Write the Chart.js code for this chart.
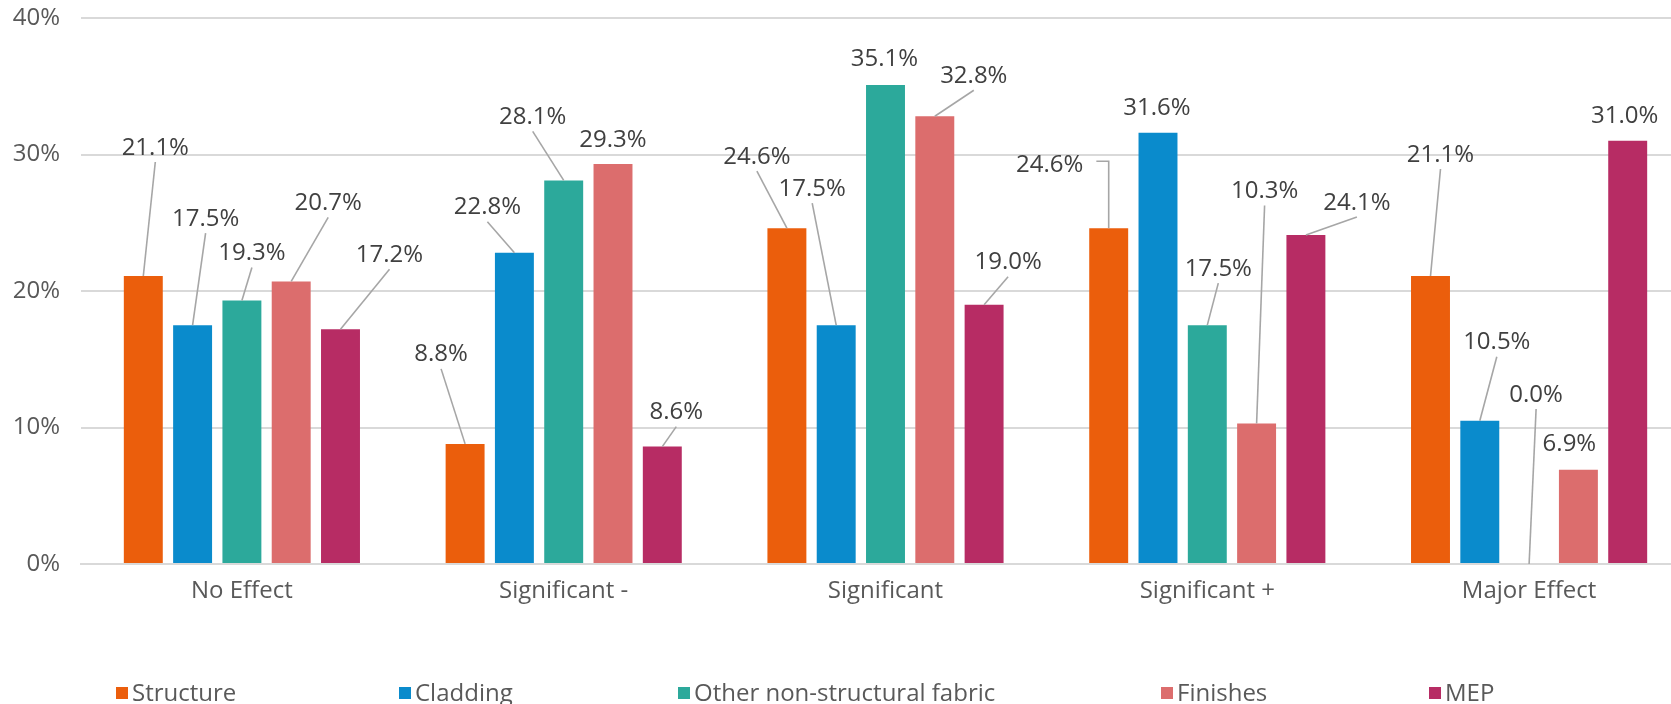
<!DOCTYPE html>
<html>
<head>
<meta charset="utf-8">
<script src="https://cdn.jsdelivr.net/npm/chart.js@4/dist/chart.umd.min.js"></script>
<style>
  html, body { margin: 0; padding: 0; background: #fff; overflow: hidden; }
  #wrap { width: 1700px; height: 704px; }
</style>
</head>
<body>
<div id="wrap"><canvas id="chart" width="1700" height="704"></canvas></div>
<script>
// Data
const categories = ['No Effect', 'Significant -', 'Significant', 'Significant +', 'Major Effect'];
const seriesNames = ['Structure', 'Cladding', 'Other non-structural fabric', 'Finishes', 'MEP'];
const structure = [21.1, 8.8, 24.6, 24.6, 21.1];
const cladding = [17.5, 22.8, 17.5, 31.6, 10.5];
const otherFabric = [19.3, 28.1, 35.1, 17.5, 0.0];
const finishes = [20.7, 29.3, 32.8, 10.3, 6.9];
const mep = [17.2, 8.6, 19.0, 24.1, 31.0];
const yTicks = [0, 10, 20, 30, 40];

const colors = ['#EB5E0C', '#0A8BCC', '#2CA99B', '#DC6D6D', '#B72C64'];

// where each label sits relative to the top of its bar (px), 'e' = elbow leader
const labelPlacement = [
    [[12, -130], [-24, -91], [-30, -73], [-59, -65, 'e'], [10, -123]],
    [[13, -108], [-27, -47], [-24, -138], [-1, -26], [17, -80]],
    [[10, -49], [-31, -65], [-1, -27], [11, -58], [7, -171]],
    [[37, -80], [0, -26], [39, -42], [8, -234], [-9, -27]],
    [[49, -76], [14, -36], [24, -44], [51, -34], [-3, -26]]
];
const legendX = [116, 399, 678, 1161, 1429];

const FONT = "'Open Sans', sans-serif";
Chart.defaults.font.family = FONT;

const valueLabels = {
    id: 'valueLabels',
    afterDatasetsDraw(chart) {
        const ctx = chart.ctx;
        ctx.save();
        ctx.font = '24px ' + FONT;
        ctx.textAlign = 'center';
        ctx.textBaseline = 'alphabetic';
        chart.data.datasets.forEach((ds, i) => {
            const meta = chart.getDatasetMeta(i);
            meta.data.forEach((bar, j) => {
                const p = labelPlacement[i][j];
                const bx = bar.x, by = bar.y;
                const lx = bx + p[0], ly = by + p[1];
                const text = ds.data[j].toFixed(1) + '%';
                ctx.strokeStyle = '#A6A6A6';
                ctx.lineWidth = 1.6;
                if (p[2] === 'e') {
                    const w = ctx.measureText(text).width;
                    ctx.beginPath();
                    ctx.moveTo(lx + w / 2 + 13, ly - 2);
                    ctx.lineTo(bx, ly - 2);
                    ctx.lineTo(bx, by);
                    ctx.stroke();
                } else if (Math.hypot(p[0], p[1]) > 32) {
                    ctx.beginPath();
                    ctx.moveTo(lx, ly + 16);
                    ctx.lineTo(bx, by);
                    ctx.stroke();
                }
                ctx.fillStyle = '#404040';
                ctx.fillText(text, lx, ly + 8.6);
            });
        });
        ctx.restore();
    }
};

const bottomLegend = {
    id: 'bottomLegend',
    afterDraw(chart) {
        const ctx = chart.ctx;
        ctx.save();
        ctx.font = '24px ' + FONT;
        ctx.textAlign = 'left';
        ctx.textBaseline = 'alphabetic';
        chart.data.datasets.forEach((ds, i) => {
            const x = legendX[i];
            ctx.fillStyle = ds.backgroundColor;
            ctx.fillRect(x, 687, 12, 12);
            ctx.fillStyle = '#595959';
            ctx.fillText(ds.label, x + 16, 701);
        });
        ctx.restore();
    }
};

const seriesData = [structure, cladding, otherFabric, finishes, mep];

new Chart(document.getElementById('chart'), {
    type: 'bar',
    data: {
        labels: categories,
        datasets: seriesNames.map((name, i) => ({
            label: name,
            data: seriesData[i],
            backgroundColor: colors[i],
            borderWidth: 0,
            categoryPercentage: 0.766,
            barPercentage: 0.79
        }))
    },
    options: {
        responsive: false,
        animation: false,
        layout: { padding: { top: 18, right: 10, left: 0, bottom: 0 } },
        plugins: {
            legend: { display: false },
            tooltip: { enabled: false }
        },
        scales: {
            x: {
                grid: { display: false },
                border: { color: '#D9D9D9', width: 2 },
                ticks: { color: '#595959', font: { size: 24 }, padding: 5 },
                afterFit(s) { s.height = 140; }
            },
            y: {
                min: 0,
                max: 40,
                afterBuildTicks(s) { s.ticks = yTicks.map(v => ({ value: v })); },
                grid: { color: '#D9D9D9', lineWidth: 2, drawTicks: false },
                border: { display: false },
                ticks: {
                    color: '#595959',
                    font: { size: 24 },
                    padding: 21,
                    callback: v => v + '%'
                },
                afterFit(s) {
                    s.width = 81;
                    s.paddingTop = 0;
                    s.paddingBottom = 0;
                }
            }
        }
    },
    plugins: [valueLabels, bottomLegend]
});
</script>
</body>
</html>
